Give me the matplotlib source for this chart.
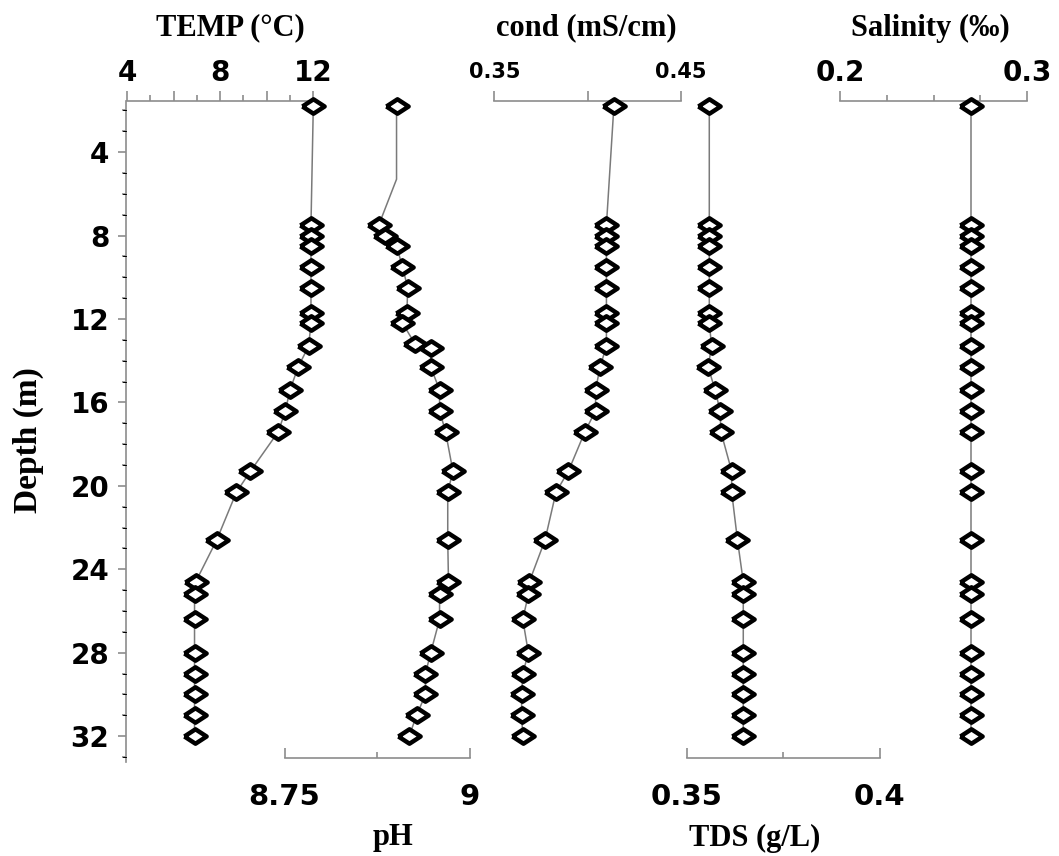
import matplotlib
matplotlib.use("Agg")
import matplotlib.pyplot as plt
import matplotlib.ticker as mticker

# depth of the sampling points (m)
depth = [1.8, 7.5, 8.0, 8.5, 9.5, 10.5, 11.7, 12.2, 13.3, 14.3, 15.4, 16.4,
         17.4, 19.3, 20.3, 22.6, 24.6, 25.2, 26.4, 28.0, 29.0, 30.0, 31.0, 32.0]

temp = [12.0, 11.9, 11.9, 11.9, 11.9, 11.9, 11.9, 11.9, 11.8, 11.35, 11.0, 10.8,
        10.5, 9.3, 8.7, 7.85, 6.95, 6.9, 6.9, 6.9, 6.9, 6.9, 6.9, 6.9]

cond = [0.414, 0.410, 0.410, 0.410, 0.410, 0.410, 0.410, 0.410, 0.410, 0.4066,
        0.4042, 0.4042, 0.3985, 0.3896, 0.383, 0.3771, 0.3687, 0.3682, 0.3652,
        0.3682, 0.3652, 0.3646, 0.3646, 0.3652]

tds = [0.3559, 0.3559, 0.3559, 0.3559, 0.3559, 0.3559, 0.3559, 0.3559, 0.3565,
       0.3556, 0.3574, 0.3587, 0.3589, 0.3617, 0.3617, 0.3632, 0.3647, 0.3647,
       0.3647, 0.3647, 0.3647, 0.3647, 0.3647, 0.3647]

sal = [0.27, 0.27, 0.27, 0.27, 0.27, 0.27, 0.27, 0.27, 0.27, 0.27, 0.27, 0.27,
       0.27, 0.27, 0.27, 0.27, 0.27, 0.27, 0.27, 0.27, 0.27, 0.27, 0.27, 0.27]

# pH has its own depths (one bend without marker, two readings near 13 m)
ph_depth = [1.8, 5.3, 7.5, 8.0, 8.5, 9.5, 10.5, 11.7, 12.2, 13.2, 13.4, 14.3,
            15.4, 16.4, 17.4, 19.3, 20.3, 22.6, 24.6, 25.2, 26.4, 28.0, 29.0,
            30.0, 31.0, 32.0]
ph = [8.901, 8.901, 8.877, 8.885, 8.901, 8.909, 8.916, 8.915, 8.909, 8.926,
      8.947, 8.947, 8.959, 8.959, 8.967, 8.977, 8.970, 8.970, 8.971, 8.959,
      8.959, 8.947, 8.940, 8.940, 8.928, 8.918]
ph_marks = [0] + list(range(2, len(ph)))

W, H = 1059, 856
X0, X1 = 126, 1035          # pixel extent of the axes
Y0, Y1 = 101, 762
D_TOP = 1.55
D_BOT = D_TOP + (Y1 - Y0) / 20.86
BRACKET = 33.05

GRAY = '#8c8c8c'
LINE = '#7a7a7a'
diamond = [(-1, 0), (0, 0.65), (1, 0), (0, -0.65), (-1, 0)]

rect = [X0 / W, 1 - Y1 / H, (X1 - X0) / W, (Y1 - Y0) / H]

fig = plt.figure(figsize=(W / 100, H / 100), dpi=100)


def px_lim(a, pa, b, pb):
    k = (pb - pa) / (b - a)
    lo = a - (pa - X0) / k
    return lo, lo + (X1 - X0) / k


def make_axis(ax, side, a, pa, b, pb, major, minor, labels, fsize, pad):
    ax.patch.set_visible(False)
    for s in ax.spines.values():
        s.set_visible(False)
    ax.set_xlim(*px_lim(a, pa, b, pb))
    sp = ax.spines[side]
    sp.set_visible(True)
    sp.set_bounds(a, b)
    sp.set_color(GRAY)
    sp.set_linewidth(1.2)
    if side == 'bottom':
        sp.set_position(('data', BRACKET))
    ax.xaxis.set_ticks_position(side)
    ax.xaxis.set_major_locator(mticker.FixedLocator(major))
    ax.xaxis.set_minor_locator(mticker.FixedLocator(minor))
    ax.xaxis.set_major_formatter(mticker.FixedFormatter(labels))
    direction = 'out' if side == 'top' else 'in'
    ax.tick_params(axis='x', which='major', direction=direction, length=7,
                   width=1.2, color=GRAY, pad=pad, labelsize=fsize)
    ax.tick_params(axis='x', which='minor', direction=direction, length=4,
                   width=1.2, color=GRAY)
    for t in ax.get_xticklabels():
        t.set_fontweight('bold')


def profile(ax, x, y, marks=None):
    ax.plot(x, y, color=LINE, lw=1.1, marker=diamond, markersize=16,
            markerfacecolor='white', markeredgecolor='black',
            markeredgewidth=3.2, markevery=marks, clip_on=False, zorder=5)


# depth axis + temperature
ax0 = fig.add_axes(rect)
ax0.set_ylim(D_BOT, D_TOP)
make_axis(ax0, 'top', 4, 127, 12, 313.3, [4, 6, 8, 10, 12], [5, 7, 9, 11],
          ['4', '', '8', '', '12'], 20, 3)
ax0.spines['left'].set_visible(True)
ax0.spines['left'].set_color(GRAY)
ax0.spines['left'].set_linewidth(1.2)
ax0.yaxis.set_major_locator(mticker.MultipleLocator(4))
ax0.yaxis.set_minor_locator(mticker.MultipleLocator(1))
ax0.tick_params(axis='y', which='major', direction='out', length=6, width=1.2,
                color=GRAY, pad=6, labelsize=20)
ax0.tick_params(axis='y', which='minor', direction='out', length=3, width=1.2,
                color=GRAY)
for t in ax0.get_yticklabels():
    t.set_fontweight('bold')
profile(ax0, temp, depth)

# pH (bottom)
ax1 = fig.add_axes(rect, sharey=ax0)
make_axis(ax1, 'bottom', 8.75, 284.5, 9.0, 470, [8.75, 9.0], [8.875],
          ['8.75', '9'], 21, 18)
ax1.tick_params(axis='y', left=False, labelleft=False)
profile(ax1, ph, ph_depth, ph_marks)

# conductivity (top)
ax2 = fig.add_axes(rect, sharey=ax0)
make_axis(ax2, 'top', 0.35, 494.4, 0.45, 681.1, [0.35, 0.40, 0.45], [],
          ['0.35', '', '0.45'], 15, 7)
ax2.tick_params(axis='y', left=False, labelleft=False)
profile(ax2, cond, depth)

# TDS (bottom)
ax3 = fig.add_axes(rect, sharey=ax0)
make_axis(ax3, 'bottom', 0.35, 686.5, 0.40, 879.6, [0.35, 0.40], [0.375],
          ['0.35', '0.4'], 21, 18)
ax3.tick_params(axis='y', left=False, labelleft=False)
profile(ax3, tds, depth)

# salinity (top)
ax4 = fig.add_axes(rect, sharey=ax0)
make_axis(ax4, 'top', 0.2, 840, 0.3, 1027, [0.2, 0.3], [0.225, 0.25, 0.275],
          ['0.2', '0.3'], 20, 3)
ax4.tick_params(axis='y', left=False, labelleft=False)
profile(ax4, sal, depth)

# titles
serif = dict(family='Liberation Serif', fontweight='bold', fontsize=22,
             ha='center', va='center')
fig.text(230 / W, 1 - 28 / H, 'TEMP (°C)', **serif)
fig.text(586 / W, 1 - 28 / H, 'cond (mS/cm)', **serif)
fig.text(930 / W, 1 - 28 / H, 'Salinity (‰)', **serif)
fig.text(393 / W, 1 - 838 / H, 'pH', **serif)
fig.text(755 / W, 1 - 838 / H, 'TDS (g/L)', **serif)
fig.text(28 / W, 1 - 440 / H, 'Depth (m)', rotation=90,
         **dict(serif, fontsize=24))

fig.savefig('out.png', dpi=100)
